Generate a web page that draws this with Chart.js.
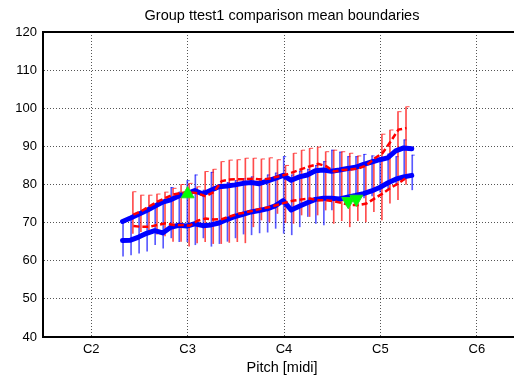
<!DOCTYPE html>
<html>
<head>
<meta charset="utf-8">
<script src="https://cdn.jsdelivr.net/npm/chart.js@4"></script>
<style>
html,body{margin:0;padding:0;background:#fff;overflow:hidden;width:514px;height:377px;}
canvas{display:block;}
</style>
</head>
<body>
<canvas id="c" width="562" height="377"></canvas>
<script>
// ---- data ----
const tickPitches = [36, 48, 60, 72, 84];
const tickNames = ['C2', 'C3', 'C4', 'C5', 'C6'];

const bluePitch = [40,41,42,43,44,45,46,47,48,49,50,51,52,53,54,55,56,57,58,59,60,61,62,63,64,65,66,67,68,69,70,71,72,73,74,75,76];
const blueUpper = [70.3,71.2,72.2,73.2,74.3,75.4,76.0,77.0,77.6,78.4,77.5,78.5,79.4,79.6,79.9,80.3,80.5,80.2,80.9,81.6,82.4,81.1,82.0,82.5,83.6,83.8,83.5,83.8,84.2,84.5,85.3,85.9,86.5,87.0,88.8,89.6,89.4];
const blueLower = [65.3,65.4,66.2,67.2,67.9,67.3,68.8,69.3,69.1,69.7,69.2,69.4,69.9,70.8,71.6,72.2,72.8,73.2,73.6,74.4,75.8,73.3,74.3,75.2,76.1,76.4,76.4,76.2,76.7,77.1,77.6,78.3,79.2,80.4,81.4,82.0,82.4];
const blueBarHi = [70.5,71.2,72.0,73.0,74.5,75.5,79.2,78.0,81.0,82.5,78.5,83.2,80.0,80.5,81.0,81.5,82.0,81.5,82.5,83.0,87.3,82.5,83.5,84.0,85.0,86.0,89.0,88.5,87.3,87.3,87.9,87.5,87.0,88.0,87.3,91.7,87.7];
const blueBarLo = [61.2,61.5,62.0,62.5,64.2,63.3,66.0,65.0,65.0,64.2,66.0,63.8,64.5,65.1,66.0,67.0,66.8,67.3,67.5,68.5,67.2,66.8,68.9,71.6,69.8,69.4,73.3,75.5,76.0,76.1,76.5,77.0,78.0,79.0,80.0,81.2,78.6];

const redPitch = [41,42,43,44,45,46,47,48,49,50,51,52,53,54,55,56,57,58,59,60,61,62,63,64,65,66,67,68,69,70,71,72,73,74,75];
const redUpper = [72.1,73.0,74.3,75.5,76.5,77.4,77.8,78.0,77.7,76.9,78.0,80.9,81.3,81.4,81.4,81.5,81.3,81.6,82.1,82.6,83.3,84.1,84.8,85.4,84.8,83.4,83.8,83.9,84.2,85.0,86.8,88.2,91.2,94.4,94.8];
const redLower = [69.1,68.9,68.9,69.4,69.8,69.4,69.4,69.2,70.5,71.1,70.8,70.9,71.6,72.3,72.7,73.2,73.7,74.1,74.7,75.3,75.8,76.1,76.3,75.9,75.9,75.6,75.1,74.6,74.6,75.0,76.3,77.6,79.1,80.3,81.8];
const redBarHi = [78.1,77.2,77.2,77.5,78.0,79.0,80.0,80.3,79.4,83.4,84.0,86.0,86.4,86.5,86.9,86.9,86.7,87.0,86.5,85.0,88.2,89.0,89.5,89.8,88.6,89.0,88.6,88.2,87.5,85.6,86.5,93.2,94.3,99.1,100.4];
const redBarLo = [67.2,67.6,67.0,67.0,66.5,65.1,65.1,63.8,64.7,65.0,64.5,64.5,64.8,65.0,64.7,68.9,70.7,70.2,72.4,70.0,69.8,72.0,71.6,72.0,73.3,69.8,70.5,68.9,70.5,70.2,72.9,70.7,75.1,76.0,80.0];

const upPitch = [48];
const upValue = [77.5];
const downPitch = [68, 69];
const downValue = [75.6, 76.2];

// ---- styling / construction ----
const blueShift = -0.1, redShift = 0.25;
const pts = (xs, ys, dx) => xs.map((x, i) => ({x: x + dx, y: ys[i]}));
const rng = (xs, lo, hi, dx) => xs.map((x, i) => ({x: x + dx, y: [lo[i], hi[i]]}));

const FAM = "'Liberation Sans', Arial, Helvetica, sans-serif";
const FONT = {family: FAM, size: 14.5};
const TFONT = {family: FAM, size: 13};
const BLUE = '#0000ff', RED = '#ff0000';
const BLUE_BAR = 'rgba(0,0,255,0.65)', RED_BAR = 'rgba(255,0,0,0.7)';

const topBorder = {
  id: 'topBorder',
  afterDraw(chart) {
    const {ctx, chartArea: a} = chart;
    ctx.save();
    ctx.strokeStyle = '#000';
    ctx.lineWidth = 2;
    ctx.beginPath();
    ctx.moveTo(a.left - 1, a.top);
    ctx.lineTo(a.right + 1, a.top);
    ctx.stroke();
    ctx.restore();
  }
};

new Chart(document.getElementById('c'), {
  data: {
    datasets: [
      {type: 'bar', data: rng(bluePitch, blueBarLo, blueBarHi, blueShift), backgroundColor: BLUE_BAR, barThickness: 1, borderWidth: 0, order: 10},
      {type: 'line', data: pts(bluePitch, blueBarHi, blueShift), showLine: false, pointStyle: 'dash', pointRadius: 3, borderColor: BLUE_BAR, pointBorderWidth: 1, order: 9},
      {type: 'bar', data: rng(redPitch, redBarLo, redBarHi, redShift), backgroundColor: RED_BAR, barThickness: 1, borderWidth: 0, order: 8},
      {type: 'line', data: pts(redPitch, redBarHi, redShift), showLine: false, pointStyle: 'dash', pointRadius: 3, borderColor: RED_BAR, pointBorderWidth: 1, order: 7},
      {type: 'line', data: pts(bluePitch, blueUpper, blueShift), borderColor: BLUE, borderWidth: 5, pointRadius: 0, tension: 0, borderJoinStyle: 'round', borderCapStyle: 'round', order: 5},
      {type: 'line', data: pts(bluePitch, blueLower, blueShift), borderColor: BLUE, borderWidth: 5, pointRadius: 0, tension: 0, borderJoinStyle: 'round', borderCapStyle: 'round', order: 5},
      {type: 'line', data: pts(redPitch, redUpper, redShift), borderColor: RED, borderWidth: 2.5, borderDash: [6, 3], pointRadius: 0, tension: 0, order: 4},
      {type: 'line', data: pts(redPitch, redLower, redShift), borderColor: RED, borderWidth: 2.5, borderDash: [6, 3], pointRadius: 0, tension: 0, order: 4},
      {type: 'line', data: pts(upPitch, upValue, 0), showLine: false, pointStyle: 'triangle', pointRadius: 7.5, pointBackgroundColor: '#00ff00', pointBorderColor: '#22dd22', pointBorderWidth: 1, order: 1},
      {type: 'line', data: pts(downPitch, downValue, 0), showLine: false, pointStyle: 'triangle', pointRotation: 180, pointRadius: 7.5, pointBackgroundColor: '#00ff00', pointBorderColor: '#22dd22', pointBorderWidth: 1, order: 1}
    ]
  },
  options: {
    responsive: false,
    animation: false,
    devicePixelRatio: 1,
    layout: {padding: {left: 0, right: 41, top: 0, bottom: 0}},
    plugins: {
      legend: {display: false},
      tooltip: {enabled: false},
      title: {display: true, fullSize: false, text: 'Group ttest1 comparison mean boundaries', color: '#000', font: {...FONT, weight: 'normal'}, padding: {top: 7, bottom: 7.6}}
    },
    scales: {
      x: {
        type: 'linear', min: 30, max: 89.5, offset: false,
        afterBuildTicks: s => { s.ticks = tickPitches.map(v => ({value: v})); },
        ticks: {callback: v => tickNames[tickPitches.indexOf(v)], font: TFONT, color: '#000', padding: 5, maxRotation: 0, autoSkip: false},
        grid: {color: '#555', lineWidth: 1, drawTicks: false, offset: false},
        border: {display: true, color: '#000', width: 2, dash: [1, 2]},
        title: {display: true, text: 'Pitch [midi]', font: FONT, color: '#000', padding: {top: 0, bottom: 0}},
        afterFit: s => { s.height = 40; }
      },
      y: {
        type: 'linear', min: 40, max: 120,
        ticks: {stepSize: 10, font: TFONT, color: '#000', padding: 6},
        grid: {color: '#555', lineWidth: 1, drawTicks: false},
        border: {display: true, color: '#000', width: 2, dash: [1, 2]},
        afterFit: s => { s.width = 43; }
      }
    }
  },
  plugins: [topBorder]
});
</script>
</body>
</html>
